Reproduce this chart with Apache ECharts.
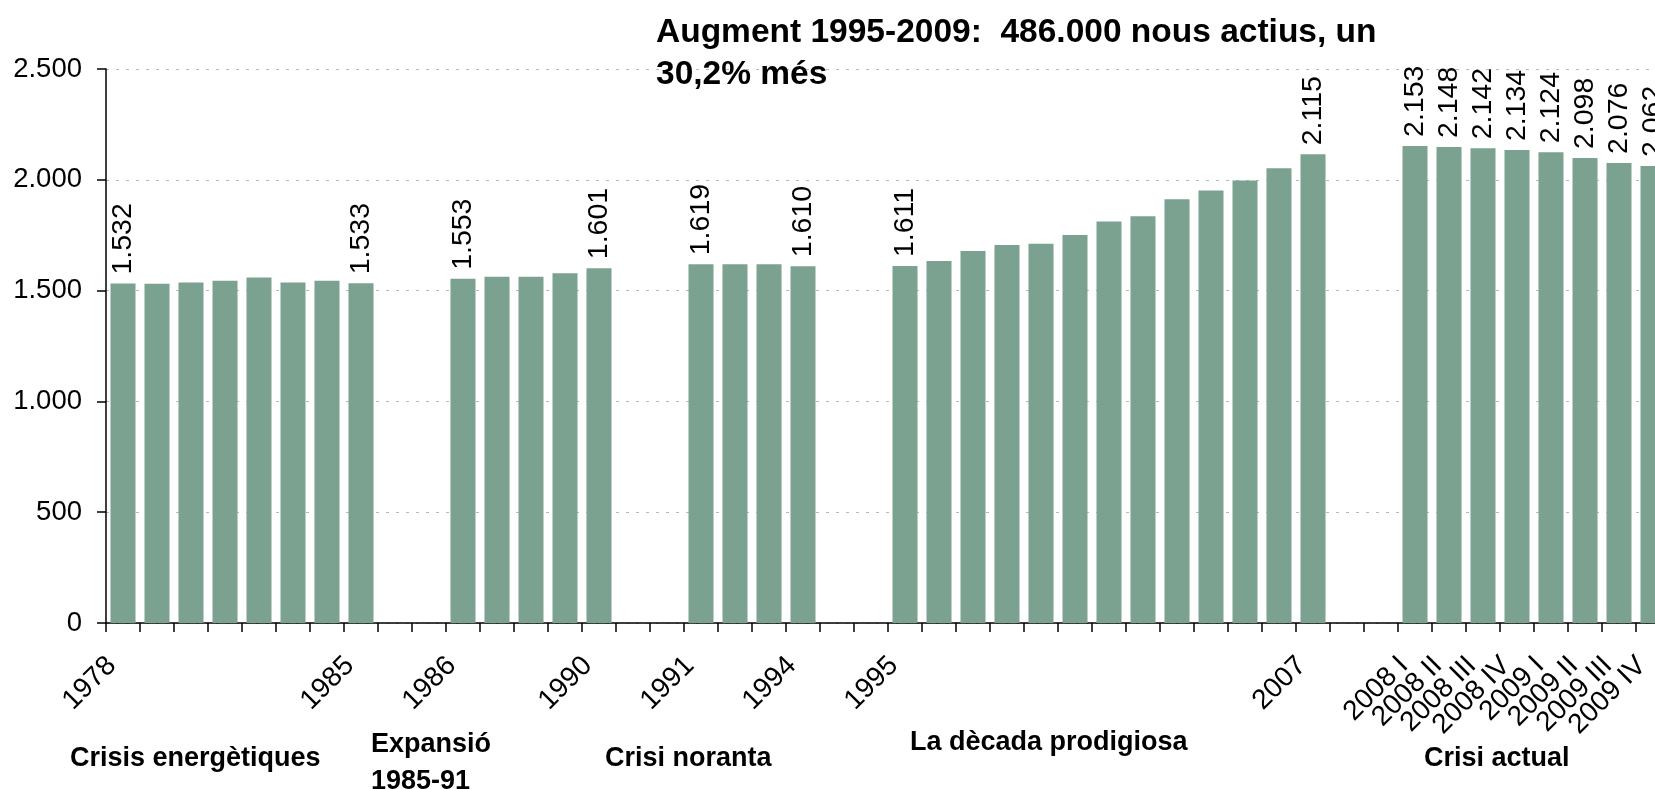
<!DOCTYPE html>
<html>
<head>
<meta charset="utf-8">
<title>Població activa</title>
<script src="https://cdn.jsdelivr.net/npm/echarts@6/dist/echarts.min.js"></script>
<style>
  html, body { margin: 0; padding: 0; background: #fff; }
  #chart { width: 1655px; height: 789px; }
</style>
</head>
<body>
<div id="chart"></div>
<script>
// dades per etapes (milers d'actius)
var crisisYears = ['1978', '1979', '1980', '1981', '1982', '1983', '1984', '1985'];
var crisisValues = [1532, 1531, 1536, 1545, 1559, 1536, 1545, 1533];
var expansionYears = ['1986', '1987', '1988', '1989', '1990'];
var expansionValues = [1553, 1562, 1562, 1578, 1601];
var ninetiesYears = ['1991', '1992', '1993', '1994'];
var ninetiesValues = [1619, 1619, 1619, 1610];
var decadeYears = ['1995', '1996', '1997', '1998', '1999', '2000', '2001', '2002', '2003', '2004', '2005', '2006', '2007'];
var decadeValues = [1611, 1634, 1679, 1706, 1711, 1751, 1812, 1835, 1912, 1952, 1997, 2052, 2115];
var currentYears = ['2008 I', '2008 II', '2008 III', '2008 IV', '2009 I', '2009 II', '2009 III', '2009 IV'];
var currentValues = [2153, 2148, 2142, 2134, 2124, 2098, 2076, 2062];

// categories amb etiqueta a l'eix i valor a sobre de la barra
var labelled = ['1978', '1985', '1986', '1990', '1991', '1994', '1995', '2007',
  '2008 I', '2008 II', '2008 III', '2008 IV', '2009 I', '2009 II', '2009 III', '2009 IV'];

var groupNames = ['Crisis energètiques', 'Expansió\n1985-91', 'Crisi noranta', 'La dècada prodigiosa', 'Crisi actual'];
var title = 'Augment 1995-2009:  486.000 nous actius, un\n30,2% més';

// dos buits entre etapes
var groups = [
  [crisisYears, crisisValues],
  [expansionYears, expansionValues],
  [ninetiesYears, ninetiesValues],
  [decadeYears, decadeValues],
  [currentYears, currentValues]
];
var categories = [];
var values = [];
groups.forEach(function (g, i) {
  if (i > 0) {
    categories.push('buit' + i + 'a', 'buit' + i + 'b');
    values.push(null, null);
  }
  categories = categories.concat(g[0]);
  values = values.concat(g[1]);
});

function punts(v) {
  return String(v).replace(/\B(?=(\d{3})+(?!\d))/g, '.');
}

var font = 'Liberation Sans, Arial, sans-serif';

var myChart = echarts.init(document.getElementById('chart'));
myChart.setOption({
  animation: false,
  textStyle: { fontFamily: font },
  title: {
    text: title,
    left: 651,
    top: 7,
    textStyle: { fontSize: 33.5, fontWeight: 'bold', color: '#000', lineHeight: 42, fontFamily: font }
  },
  grid: {
    left: 106,
    right: -15,
    top: 69,
    bottom: 166,
    containLabel: false,
    outerBoundsMode: 'none'
  },
  xAxis: {
    type: 'category',
    data: categories,
    axisLine: { lineStyle: { color: '#000', width: 1.5 } },
    axisTick: { show: true, length: 9, interval: 0, lineStyle: { color: '#000', width: 1.5 } },
    axisLabel: {
      interval: 0,
      rotate: 45,
      margin: 27,
      hideOverlap: false,
      fontSize: 28,
      color: '#000',
      fontFamily: font,
      padding: [0, 16, 0, 0],
      formatter: function (name) {
        return labelled.indexOf(name) >= 0 ? name : '';
      }
    },
    splitLine: { show: false }
  },
  yAxis: {
    type: 'value',
    min: 0,
    max: 2500,
    interval: 500,
    axisLine: { show: true, lineStyle: { color: '#000', width: 1.5 } },
    axisTick: { show: true, length: 9, lineStyle: { color: '#000', width: 1.5 } },
    axisLabel: {
      margin: 24,
      fontSize: 27.5,
      color: '#000',
      fontFamily: font,
      formatter: function (v) { return punts(v); }
    },
    splitLine: { show: true, lineStyle: { color: '#b8b8b8', type: [3, 7], width: 1 } }
  },
  series: [{
    type: 'bar',
    data: values,
    barWidth: 25,
    itemStyle: { color: '#7BA291' },
    label: {
      show: true,
      position: 'top',
      rotate: 90,
      align: 'left',
      verticalAlign: 'middle',
      distance: 9,
      fontSize: 28.5,
      color: '#000',
      fontFamily: font,
      formatter: function (p) {
        return labelled.indexOf(p.name) >= 0 ? punts(p.value) : '';
      }
    }
  }],
  graphic: [
    { type: 'text', left: 70, top: 745, style: { text: groupNames[0], font: 'bold 27px ' + font, fill: '#000' } },
    { type: 'text', left: 371, top: 726, style: { text: groupNames[1], font: 'bold 27px ' + font, fill: '#000', lineHeight: 37 } },
    { type: 'text', left: 605, top: 745, style: { text: groupNames[2], font: 'bold 27px ' + font, fill: '#000' } },
    { type: 'text', left: 910, top: 729, style: { text: groupNames[3], font: 'bold 27px ' + font, fill: '#000' } },
    { type: 'text', left: 1424, top: 745, style: { text: groupNames[4], font: 'bold 27px ' + font, fill: '#000' } }
  ]
});
</script>
</body>
</html>
